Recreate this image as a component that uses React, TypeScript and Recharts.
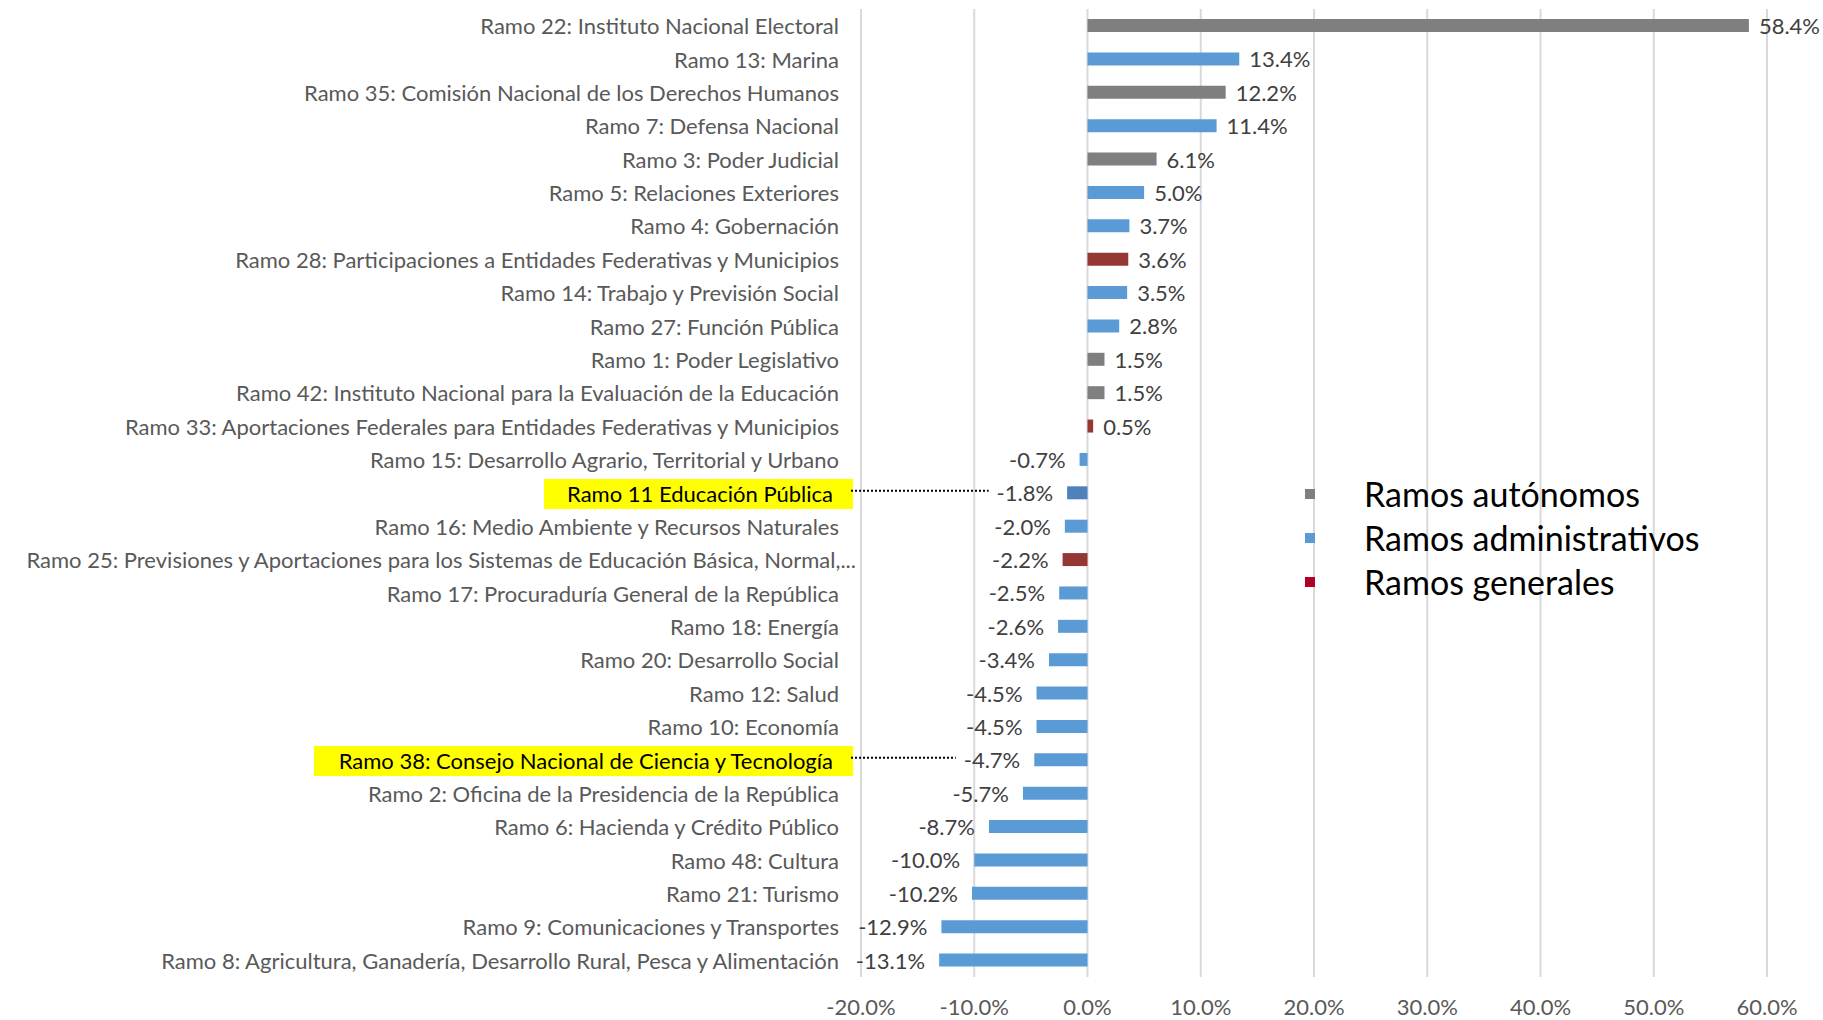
import React from "react";
import { BarChart, Bar, Cell, XAxis, YAxis, CartesianGrid, LabelList } from "recharts";

const FONT = "Lato, 'Open Sans', sans-serif";

const RAMOS = [
  "Ramo 22: Instituto Nacional Electoral",
  "Ramo 13: Marina",
  "Ramo 35: Comisión Nacional de los Derechos Humanos",
  "Ramo 7: Defensa Nacional",
  "Ramo 3: Poder Judicial",
  "Ramo 5: Relaciones Exteriores",
  "Ramo 4: Gobernación",
  "Ramo 28: Participaciones a Entidades Federativas y Municipios",
  "Ramo 14: Trabajo y Previsión Social",
  "Ramo 27: Función Pública",
  "Ramo 1: Poder Legislativo",
  "Ramo 42: Instituto Nacional para la Evaluación de la Educación",
  "Ramo 33: Aportaciones Federales para Entidades Federativas y Municipios",
  "Ramo 15: Desarrollo Agrario, Territorial y Urbano",
  "Ramo 11 Educación Pública",
  "Ramo 16: Medio Ambiente y Recursos Naturales",
  "Ramo 25: Previsiones y Aportaciones para los Sistemas de Educación Básica, Normal,...",
  "Ramo 17: Procuraduría General de la República",
  "Ramo 18: Energía",
  "Ramo 20: Desarrollo Social",
  "Ramo 12: Salud",
  "Ramo 10: Economía",
  "Ramo 38: Consejo Nacional de Ciencia y Tecnología",
  "Ramo 2: Oficina de la Presidencia de la República",
  "Ramo 6: Hacienda y Crédito Público",
  "Ramo 48: Cultura",
  "Ramo 21: Turismo",
  "Ramo 9: Comunicaciones y Transportes",
  "Ramo 8: Agricultura, Ganadería, Desarrollo Rural, Pesca y Alimentación",
];

// variación porcentual
const VARIACION = [
  58.4, 13.4, 12.2, 11.4, 6.1, 5.0, 3.7, 3.6, 3.5, 2.8, 1.5, 1.5, 0.5, -0.7, -1.8,
  -2.0, -2.2, -2.5, -2.6, -3.4, -4.5, -4.5, -4.7, -5.7, -8.7, -10.0, -10.2, -12.9, -13.1,
];

// a = autónomo, d = administrativo, g = general
const TIPO = [
  "a", "d", "a", "d", "a", "d", "d", "g", "d", "d", "a", "a", "g", "d", "d",
  "d", "g", "d", "d", "d", "d", "d", "d", "d", "d", "d", "d", "d", "d",
];

const HIGHLIGHT = ["Ramo 11 Educación Pública", "Ramo 38: Consejo Nacional de Ciencia y Tecnología"];

const GROUP_KEYS = ["a", "d", "g"];
const GROUP_NAMES = ["Ramos autónomos", "Ramos administrativos", "Ramos generales"];
const GROUP_COLORS = ["#7F7F7F", "#5B9BD5", "#953735"];
const LEGEND_COLORS = ["#7F7F7F", "#5B9BD5", "#B0002A"];

const X_TICKS = [-20, -10, 0, 10, 20, 30, 40, 50, 60];

const data = RAMOS.map((name, i) => ({ name, value: VARIACION[i], tipo: TIPO[i] }));

let ctx: CanvasRenderingContext2D | null = null;
function textWidth(t: string, size: number) {
  if (!ctx) ctx = document.createElement("canvas").getContext("2d");
  if (!ctx) return t.length * size * 0.5;
  ctx.font = `${size}px Lato`;
  return ctx.measureText(t).width;
}

const fmt = (v: number) => `${v.toFixed(1)}%`;

function CategoryTick(props: any) {
  const { x, y, payload } = props;
  const name = payload.value as string;
  if (HIGHLIGHT.includes(name)) {
    const w = textWidth(name, 22);
    const textEnd = x - 6;
    const boxLeft = textEnd - w - 23;
    return (
      <g>
        <rect x={boxLeft} y={y - 14} width={x + 14 - boxLeft} height={30} fill="#FFFF00" />
        <text x={textEnd} y={y} textAnchor="end" dominantBaseline="central" fontSize={22} fill="#000" fontFamily={FONT}>
          {name}
        </text>
      </g>
    );
  }
  // truncated label hangs past the others, as in the source
  const tx = name.endsWith("...") ? x + 17 : x;
  return (
    <text x={tx} y={y} textAnchor="end" dominantBaseline="central" fontSize={22} fill="#595959" fontFamily={FONT}>
      {name}
    </text>
  );
}

function ValueLabel(props: any) {
  const { x, y, width, height, value, index } = props;
  const left = Math.min(x, x + width);
  const right = Math.max(x, x + width);
  const cy = y + height / 2;
  const txt = fmt(value);
  if (value >= 0) {
    return (
      <text x={right + 10} y={cy} dominantBaseline="central" fontSize={22} fill="#404040" fontFamily={FONT}>
        {txt}
      </text>
    );
  }
  const tx = left - 14;
  let line = null;
  if (HIGHLIGHT.includes(RAMOS[index])) {
    // left edge of plot derived from this bar's own scale
    const perUnit = Math.abs(width) / Math.abs(value);
    const plotLeft = right - (0 - X_TICKS[0]) * perUnit;
    const end = tx - textWidth(txt, 22) - 8;
    line = <line x1={plotLeft - 10} x2={end} y1={cy - 2} y2={cy - 2} stroke="#000" strokeWidth={2} strokeDasharray="2 2" />;
  }
  return (
    <g>
      {line}
      <text x={tx} y={cy} textAnchor="end" dominantBaseline="central" fontSize={22} fill="#404040" fontFamily={FONT}>
        {txt}
      </text>
    </g>
  );
}

function GroupLegend() {
  return (
    <div style={{ position: "absolute", left: 1305, top: 472, fontFamily: FONT }}>
      {GROUP_NAMES.map((n, i) => (
        <div key={n} style={{ display: "flex", alignItems: "center", height: 44 }}>
          <span style={{ width: 10, height: 10, background: LEGEND_COLORS[i], marginRight: 49, display: "inline-block" }} />
          <span style={{ fontSize: 34, color: "#000", lineHeight: "44px" }}>{n}</span>
        </div>
      ))}
    </div>
  );
}

export default function App() {
  return (
    <div style={{ position: "absolute", left: 0, top: 0, width: 1823, height: 1020, background: "#fff" }}>
      <BarChart
        width={1823}
        height={1020}
        data={data}
        layout="vertical"
        margin={{ top: 9, right: 56, bottom: 0, left: 0 }}
        barSize={13}
      >
        <CartesianGrid horizontal={false} vertical stroke="#D9D9D9" strokeWidth={2} />
        <XAxis
          type="number"
          domain={[-20, 60]}
          ticks={X_TICKS}
          tickFormatter={fmt}
          axisLine={false}
          tickLine={false}
          height={43}
          tickMargin={16}
          tick={{ fontSize: 22, fill: "#595959", fontFamily: FONT }}
        />
        <YAxis
          type="category"
          dataKey="name"
          width={861}
          axisLine={false}
          tickLine={false}
          tickMargin={16}
          interval={0}
          tick={<CategoryTick />}
        />
        <Bar dataKey="value" isAnimationActive={false}>
          {data.map((d, i) => (
            <Cell
              key={i}
              fill={d.name === "Ramo 11 Educación Pública" ? "#4F81BD" : GROUP_COLORS[GROUP_KEYS.indexOf(d.tipo)]}
            />
          ))}
          <LabelList dataKey="value" content={<ValueLabel />} />
        </Bar>
      </BarChart>
      <GroupLegend />
    </div>
  );
}
